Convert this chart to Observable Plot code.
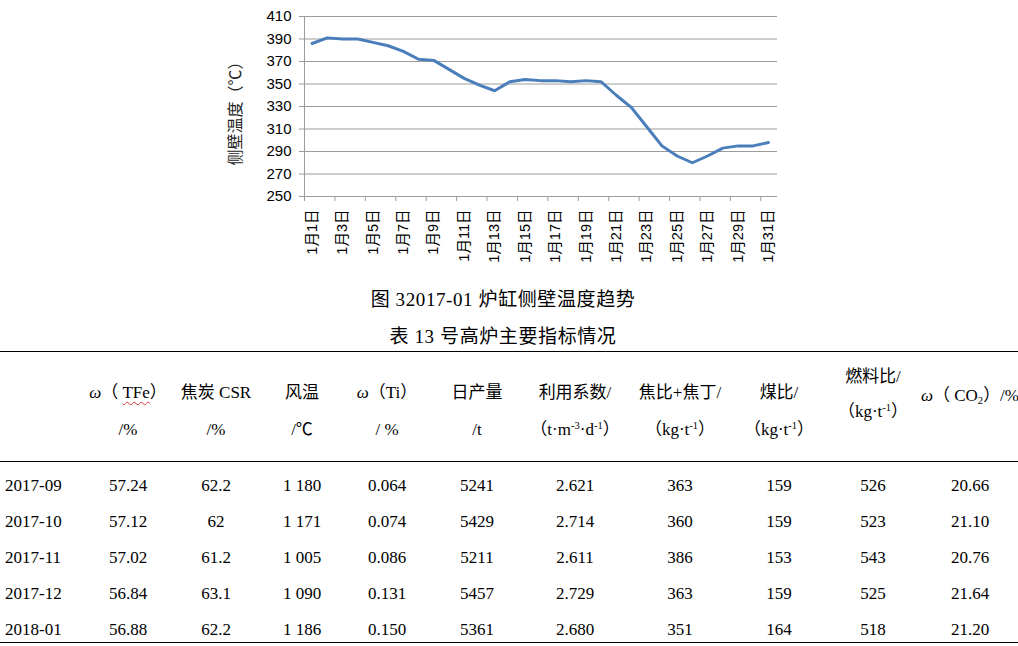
<!DOCTYPE html>
<html><head><meta charset="utf-8">
<script src="https://cdn.jsdelivr.net/npm/d3@7"></script>
<script src="https://cdn.jsdelivr.net/npm/@observablehq/plot@0.6"></script>
<style>
html,body{margin:0;padding:0;background:#fff}
body{width:1018px;height:646px;position:relative;overflow:hidden}
#chart{position:absolute;left:0;top:0}
.cap{position:absolute;left:0;width:1006px;text-align:center;font-family:"Liberation Serif","Noto Sans CJK SC",serif;font-size:19px;letter-spacing:0.6px;line-height:24px;color:#000}
.rule{position:absolute;left:0;width:1018px;background:#000}
.cell{position:absolute;width:200px;text-align:center;line-height:20px;height:20px;white-space:nowrap;font-family:"Liberation Serif","Noto Sans CJK SC",serif;font-size:17px;color:#000}
.cell sup{font-size:0.62em;vertical-align:0.55em;line-height:0}
.cell sub{font-size:0.62em;vertical-align:-0.25em;line-height:0}
.wavy{text-decoration:underline wavy #d33;text-decoration-thickness:1px;text-underline-offset:3px}
</style>
</head><body>
<div id="chart"></div>
<div class="cap" style="top:288px">图 32017-01 炉缸侧壁温度趋势</div>
<div class="cap" style="top:325px">表 13 号高炉主要指标情况</div>
<div id="table"></div>
<script>
// ---- chart data ----
const days = [1,2,3,4,5,6,7,8,9,10,11,12,13,14,15,16,17,18,19,20,21,22,23,24,25,26,27,28,29,30,31];
const temps = [386,391,390,390,387,384,379,372,371,363,355,349,344,352,354,353,353,352,353,352,340,329,312,295,286,280,286,293,295,295,298];
const yTicks = [250,270,290,310,330,350,370,390,410];
const labelDays = [1,3,5,7,9,11,13,15,17,19,21,23,25,27,29,31];
const tickBounds = [0.5,2.5,4.5,6.5,8.5,10.5,12.5,14.5,16.5,18.5,20.5,22.5,24.5,26.5,28.5,30.5];
const yTitle = "侧壁温度（℃）";

// ---- table data ----
const months = ["2017-09","2017-10","2017-11","2017-12","2018-01"];
const tfe = ["57.24","57.12","57.02","56.84","56.88"];
const csr = ["62.2","62","61.2","63.1","62.2"];
const blastTemp = ["1 180","1 171","1 005","1 090","1 186"];
const ti = ["0.064","0.074","0.086","0.131","0.150"];
const dailyOutput = ["5241","5429","5211","5457","5361"];
const utilization = ["2.621","2.714","2.611","2.729","2.680"];
const cokeRate = ["363","360","386","363","351"];
const coalRate = ["159","159","153","159","164"];
const fuelRate = ["526","523","543","525","518"];
const co2 = ["20.66","21.10","20.76","21.64","21.20"];
const headers = [
  [],
  ["<i>ω</i>（ <span class='wavy'>TFe</span>）", "/%"],
  ["焦炭 CSR", "/%"],
  ["风温", "/℃"],
  ["<i>ω</i>（Ti）", "/ %"],
  ["日产量", "/t"],
  ["利用系数/", "（t·m<sup>-3</sup>·d<sup>-1</sup>）"],
  ["焦比+焦丁/", "（kg·t<sup>-1</sup>）"],
  ["煤比/", "（kg·t<sup>-1</sup>）"],
  ["燃料比/", "（kg·t<sup>-1</sup>）"],
  ["<i>ω</i>（ CO<sub>2</sub>）/%"]
];

// ---- chart ----
const W = 1018, H = 278;
const pts = days.map((d, i) => ({day: d, t: temps[i]}));
const grey = "#9c9c9c";
const chart = Plot.plot({
  width: W, height: H,
  marginLeft: 304, marginRight: W - 775.5, marginTop: 16, marginBottom: H - 196,
  x: {type: "linear", domain: [0.5, 31.5]},
  y: {domain: [250, 410]},
  style: {fontFamily: "'Liberation Sans','Noto Sans CJK SC',sans-serif", color: "#000", background: "transparent", overflow: "visible"},
  marks: [
    Plot.ruleY(yTicks, {y: d => d, x1: 0.5, x2: 31.6, stroke: grey, strokeWidth: 1}),
    Plot.ruleX([0.5], {x: d => d, stroke: grey, strokeWidth: 1}),
    Plot.axisY({ticks: yTicks, tickSize: 5, tickPadding: 8, stroke: grey, fontSize: 15, label: null, tickFormat: d => String(d)}),
    Plot.axisX({ticks: tickBounds, tickSize: 5, stroke: grey, tickFormat: () => "", label: null}),
    Plot.axisX({ticks: labelDays, tickSize: 0, tickPadding: 13, tickRotate: -90, fontSize: 14.5, label: null, tickFormat: d => `1月${d}日`}),
    Plot.line(pts, {x: "day", y: "t", stroke: "#4a7ebb", strokeWidth: 3, strokeLinejoin: "round", strokeLinecap: "round"}),
    Plot.text([yTitle], {text: d => d, frameAnchor: "left", textAnchor: "middle", dx: -69, dy: 3, rotate: -90, fontSize: 16, fill: "#222"})
  ]
});
document.getElementById("chart").appendChild(chart);

// ---- table ----
const tbl = document.getElementById("table");
const colCenter = [35,128,216,302,387,477,575,680,779,873,970];
const headerY = [[],[393,430],[393,430],[393,430],[393,430],[393,430],[393,430],[393,430],[393,430],[377,412],[396]];
const rowY0 = 486, rowStep = 36;
const columns = [months, tfe, csr, blastTemp, ti, dailyOutput, utilization, cokeRate, coalRate, fuelRate, co2];
function addCell(html, c, y) {
  const el = document.createElement("div");
  el.className = "cell";
  el.innerHTML = html;
  if (c === 0) { el.style.left = "5px"; el.style.textAlign = "left"; }
  else el.style.left = (colCenter[c] - 100) + "px";
  el.style.top = (y - 10) + "px";
  tbl.appendChild(el);
}
function addRule(y, h) {
  const r = document.createElement("div");
  r.className = "rule";
  r.style.top = y + "px"; r.style.height = h + "px";
  tbl.appendChild(r);
}
addRule(350.5, 1.5);
addRule(461, 1);
addRule(641.5, 1.5);
headers.forEach((lines, c) => lines.forEach((txt, k) => addCell(txt, c, headerY[c][k])));
columns.forEach((col, c) => col.forEach((v, r) => addCell(v, c, rowY0 + r * rowStep)));
</script>
</body></html>
